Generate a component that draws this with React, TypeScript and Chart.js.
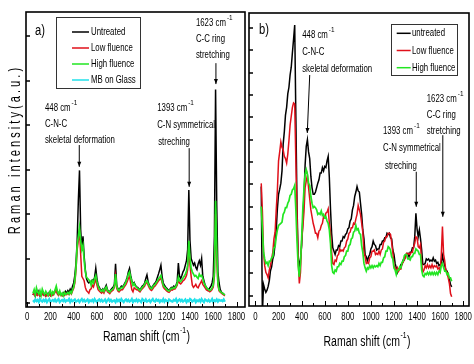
import React, { useEffect, useRef } from "react";
import { Chart, registerables } from "chart.js";
Chart.register(...registerables);

// ---------- data ----------
const SHIFT = [
  50, 60, 70, 80, 90, 100, 110, 120, 130, 140,
  150, 160, 170, 180, 190, 200, 210, 220, 230, 240,
  250, 260, 270, 280, 290, 300, 310, 320, 330, 340,
  350, 360, 370, 380, 390, 400, 410, 420, 430, 440,
  450, 460, 470, 480, 490, 500, 510, 520, 530, 540,
  550, 560, 570, 580, 590, 600, 610, 620, 630, 640,
  650, 660, 670, 680, 690, 700, 710, 720, 730, 740,
  750, 760, 770, 780, 790, 800, 810, 820, 830, 840,
  850, 860, 870, 880, 890, 900, 910, 920, 930, 940,
  950, 960, 970, 980, 990, 1000, 1010, 1020, 1030, 1040,
  1050, 1060, 1070, 1080, 1090, 1100, 1110, 1120, 1130, 1140,
  1150, 1160, 1170, 1180, 1190, 1200, 1210, 1220, 1230, 1240,
  1250, 1260, 1270, 1280, 1290, 1300, 1310, 1320, 1330, 1340,
  1350, 1360, 1370, 1380, 1390, 1400, 1410, 1420, 1430, 1440,
  1450, 1460, 1470, 1480, 1490, 1500, 1510, 1520, 1530, 1540,
  1550, 1560, 1570, 1580, 1590, 1600, 1610, 1620, 1630, 1640,
  1650, 1660, 1670, 1680, 1690, 1700,
];

// Panel a)
const A_UNTREATED = [
  18, 24, 15, 22, 19, 26, 17, 21, 25, 18,
  20, 16, 22, 18, 24, 17, 21, 19, 23, 27,
  33, 22, 18, 24, 20, 17, 23, 19, 26, 22,
  28, 24, 31, 26, 38, 45, 62, 90, 140, 230,
  298, 165, 120, 150, 105, 75, 55, 48, 45, 48,
  45, 52, 50, 58, 78, 55, 40, 35, 30, 28,
  32, 28, 34, 40, 30, 27, 25, 30, 33, 36,
  42, 88, 40, 32, 30, 34, 38, 36, 40, 45,
  50, 58, 70, 78, 62, 50, 42, 46, 40, 36,
  35, 32, 30, 34, 38, 40, 45, 55, 63, 48,
  40, 36, 34, 38, 42, 45, 50, 58, 66, 75,
  85, 60, 45, 40, 36, 33, 30, 28, 32, 35,
  34, 38, 36, 40, 48, 90, 60, 55, 62, 70,
  75, 85, 95, 120, 254, 140, 100, 92, 85, 90,
  80, 75, 88, 95, 85, 100, 60, 50, 40, 35,
  32, 30, 34, 38, 45, 60, 150, 480, 220, 70,
  45, 30, 25, 22, 20, 18,
];
const A_LOW = [
  18, 22, 16, 20, 17, 23, 15, 19, 22, 17,
  18, 15, 20, 16, 21, 16, 19, 17, 20, 24,
  30, 20, 17, 22, 18, 16, 20, 17, 22, 19,
  22, 19, 24, 20, 27, 33, 45, 75, 120, 140,
  165, 110, 60, 55, 50, 35, 28, 25, 22, 30,
  32, 40, 36, 45, 55, 40, 30, 27, 24, 22,
  26, 22, 28, 33, 25, 23, 21, 25, 27, 29,
  35, 60, 33, 27, 25, 28, 30, 30, 34, 38,
  42, 48, 55, 60, 45, 30, 25, 34, 32, 30,
  30, 27, 25, 29, 32, 35, 38, 44, 46, 40,
  34, 30, 28, 32, 36, 38, 42, 46, 50, 53,
  56, 46, 36, 32, 30, 27, 25, 24, 27, 30,
  29, 32, 31, 35, 40, 52, 45, 43, 46, 50,
  52, 56, 62, 75, 130, 85, 60, 40, 35, 38,
  42, 36, 34, 40, 45, 50, 42, 38, 34, 30,
  28, 27, 25, 27, 30, 36, 60, 200, 100, 40,
  27, 24, 22, 20, 18, 16,
];
const A_HIGH = [
  22, 30, 18, 34, 25, 20, 28, 17, 31, 24,
  19, 26, 21, 17, 23, 28, 18, 25, 21, 30,
  38, 26, 20, 27, 18, 22, 16, 24, 19, 21,
  24, 20, 26, 22, 30, 36, 50, 80, 130, 150,
  170, 140, 120, 130, 95, 70, 58, 55, 52, 50,
  40, 50, 45, 55, 62, 48, 38, 32, 28, 26,
  30, 26, 32, 36, 28, 26, 24, 28, 30, 32,
  38, 65, 38, 30, 28, 32, 35, 34, 38, 42,
  48, 55, 65, 70, 58, 48, 40, 44, 38, 35,
  33, 30, 28, 32, 35, 38, 42, 48, 50, 44,
  38, 34, 32, 36, 40, 42, 46, 50, 55, 58,
  62, 50, 40, 36, 34, 30, 28, 27, 30, 33,
  32, 35, 34, 38, 44, 58, 50, 48, 52, 56,
  60, 65, 72, 85, 140, 100, 78, 70, 65, 60,
  62, 58, 55, 65, 60, 62, 55, 45, 40, 35,
  32, 30, 28, 30, 34, 40, 70, 230, 120, 45,
  30, 26, 24, 22, 20, 18,
];
const A_GLASS = [
  6, 3, 8, 4, 7, 2, 9, 5, 3, 7,
  4, 8, 2, 6, 9, 3, 5, 7, 4, 8,
  3, 6, 9, 2, 5, 7, 4, 8, 3, 6,
  5, 9, 2, 7, 4, 6, 8, 3, 5, 7,
  2, 6, 9, 4, 7, 3, 5, 8, 2, 6,
  4, 7, 3, 9, 5, 2, 6, 8, 4, 7,
  3, 5, 8, 2, 6, 9, 4, 7, 3, 5,
  6, 2, 8, 4, 7, 3, 9, 5, 2, 6,
  8, 4, 7, 3, 5, 9, 2, 6, 4, 8,
  3, 7, 5, 2, 9, 6, 4, 8, 3, 5,
  7, 2, 6, 9, 4, 3, 8, 5, 7, 2,
  6, 4, 9, 3, 7, 5, 2, 8, 6, 4,
  3, 7, 5, 9, 2, 6, 8, 4, 7, 3,
  5, 8, 2, 6, 4, 9, 7, 3, 5, 8,
  2, 6, 4, 7, 3, 9, 5, 2, 8, 6,
  4, 7, 3, 5, 9, 2, 6, 4, 8, 3,
  7, 5, 6, 4, 8, 3,
];

// Panel b)
const B_UNTREATED = [
  490, -80, 50, 30, 15, 25, 42, 68, 112, 130,
  165, 182, 235, 295, 390, 455, 478, 505, 560, 680,
  735, 810, 845, 905, 935, 990, 1025, 1090, 1150, 1214,
  800, 400, 170, 130, 165, 225, 335, 445, 585, 670,
  700, 645, 615, 535, 485, 455, 455, 465, 485, 505,
  520, 550, 550, 575, 560, 580, 575, 605, 625, 530,
  390, 280, 215, 200, 185, 205, 205, 225, 220, 245,
  245, 265, 260, 275, 280, 300, 305, 335, 345, 385,
  405, 445, 465, 490, 470, 465, 415, 365, 295, 255,
  185, 175, 155, 175, 185, 210, 220, 245, 230, 225,
  205, 210, 210, 230, 230, 245, 245, 260, 260, 280,
  275, 280, 260, 255, 205, 185, 145, 125, 105, 120,
  120, 140, 140, 160, 160, 185, 185, 190, 175, 195,
  195, 215, 215, 265, 370, 300, 265, 295, 255, 205,
  140, 140, 145, 165, 160, 165, 155, 160, 155, 170,
  155, 160, 145, 150, 135, 140, 145, 180, 155, 135,
  115, 110, 90, 75, 50, 40,
];
const B_LOW = [
  504, 380, 195, 135, 105, 95, 80, 115, 135, 165,
  195, 255, 285, 385, 475, 605, 645, 690, 665, 655,
  625, 615, 595, 635, 695, 765, 805, 845, 865, 860,
  600, 350, 160, 55, 105, 245, 305, 375, 485, 515,
  540, 485, 435, 385, 355, 325, 305, 280, 280, 260,
  290, 295, 315, 325, 355, 350, 370, 375, 390, 325,
  285, 195, 145, 140, 160, 155, 180, 185, 210, 200,
  205, 200, 215, 220, 245, 255, 280, 285, 305, 305,
  325, 320, 345, 365, 405, 385, 365, 325, 285, 195,
  175, 145, 150, 145, 170, 175, 200, 200, 205, 185,
  190, 185, 200, 185, 205, 210, 240, 245, 265, 265,
  280, 280, 275, 240, 195, 135, 125, 110, 125, 110,
  120, 120, 145, 150, 165, 170, 190, 185, 190, 185,
  195, 195, 220, 235, 265, 260, 220, 215, 230, 145,
  105, 115, 135, 125, 140, 125, 135, 125, 140, 125,
  135, 130, 135, 120, 125, 110, 185, 310, 185, 155,
  110, 105, 80, 55, 10, -5,
];
const B_HIGH = [
  400, 300, 195, 165, 145, 150, 135, 155, 155, 170,
  175, 215, 220, 265, 295, 315, 320, 325, 330, 365,
  375, 395, 395, 415, 425, 450, 455, 475, 480, 495,
  385, 245, 135, 85, 145, 255, 385, 475, 545, 565,
  545, 505, 495, 445, 415, 395, 400, 395, 385, 365,
  370, 365, 380, 360, 365, 350, 355, 335, 325, 295,
  235, 135, 105, 100, 115, 110, 130, 130, 145, 140,
  155, 155, 175, 180, 200, 200, 225, 230, 255, 260,
  285, 290, 315, 295, 300, 280, 275, 225, 195, 145,
  125, 110, 125, 120, 135, 125, 135, 125, 135, 130,
  135, 130, 145, 135, 150, 150, 170, 175, 200, 200,
  220, 215, 205, 175, 165, 125, 115, 95, 115, 115,
  130, 125, 150, 155, 180, 185, 185, 165, 165, 160,
  175, 175, 190, 190, 210, 205, 200, 185, 185, 115,
  90, 85, 100, 95, 105, 95, 105, 95, 105, 95,
  105, 95, 105, 95, 110, 105, 135, 145, 125, 110,
  110, 95, 100, 80, 80, 65,
];

const X_TICKS = [0, 200, 400, 600, 800, 1000, 1200, 1400, 1600, 1800];
const X_MINOR = [100, 300, 500, 700, 900, 1100, 1300, 1500, 1700];
const A_Y_TICKS = [0, 100, 200, 300, 400, 500, 600];
const B_Y_TICKS = [0, 100, 200, 300, 400, 500, 600, 700, 800, 900, 1000, 1100, 1200];

const A_LABELS = ["Untreated", "Low fluence", "High fluence", "MB on Glass"];
const B_LABELS = ["untreated", "Low fluence", "High fluence"];
const X_TITLE = "Raman shift (cm";
const Y_TITLE = "R a m a n   i n t e n s i t y ( a . u . )";

const COLORS = { black: "#000000", red: "#e0101a", green: "#22e622", cyan: "#20e0ea" };

// ---------- styling ----------
const SANS = '"Liberation Sans", Arial, sans-serif';
const SX = 0.68;
const TXT = 11.5;

type Ann = {
  lines: string[];
  tx: number; ty: number; gap: number; indent?: number[];
  ax1: number; ay1: number; ax2: number; ay2: number;
};

type Spec = {
  left: number; width: number;
  pad: { top: number; right: number; left: number; bottom: number };
  xMin: number; xMax: number; yMin: number; yMax: number;
  yTicks: number[];
  xAxisH: number; yAxisW: number;
  tickY: number;
  xTitle: { dx: number; dy: number };
  yTitle?: { x: number; y: number };
  series: { label: string; data: number[]; color: string; order: number; width: number }[];
  legend: { x: number; y: number; w: number; h: number; row0: number; gap: number; l0: number; l1: number; tx: number };
  panel: { text: string; x: number; y: number };
  anns: Ann[];
};

const SPEC_A: Spec = {
  left: 0, width: 247,
  pad: { top: 12, right: 2, left: 0, bottom: 0 },
  xMin: -10, xMax: 1873, yMin: -9, yMax: 654,
  yTicks: A_Y_TICKS,
  xAxisH: 57, yAxisW: 26,
  tickY: 10,
  xTitle: { dx: 120.5, dy: 29.7 },
  yTitle: { x: 16, y: 151 },
  series: [
    { label: A_LABELS[0], data: A_UNTREATED, color: COLORS.black, order: 4, width: 1.5 },
    { label: A_LABELS[1], data: A_LOW, color: COLORS.red, order: 3, width: 1.5 },
    { label: A_LABELS[2], data: A_HIGH, color: COLORS.green, order: 2, width: 1.7 },
    { label: A_LABELS[3], data: A_GLASS, color: COLORS.cyan, order: 1, width: 2.2 },
  ],
  legend: { x: 30, y: 5, w: 84, h: 71, row0: 15, gap: 16, l0: 16, l1: 33, tx: 35 },
  panel: { text: "a)", x: 9, y: 19 },
  anns: [
    { lines: ["448 cm", "C-N-C", "skeletal deformation"], tx: 153, ty: 438, gap: 16, ax1: 448, ay1: 355, ax2: 448, ay2: 306 },
    { lines: ["1393 cm", "C-N symmetrical", "streching"], tx: 1118, ty: 438, gap: 17, indent: [0, 0, 1], ax1: 1393, ay1: 348, ax2: 1393, ay2: 261 },
    { lines: ["1623 cm", "C-C ring", "stretching"], tx: 1451, ty: 629, gap: 16, ax1: 1623, ay1: 539, ax2: 1623, ay2: 492 },
  ],
};

const SPEC_B: Spec = {
  left: 247, width: 227,
  pad: { top: 13, right: 5, left: 2, bottom: 0 },
  xMin: -56, xMax: 1850, yMin: -46, yMax: 1268,
  yTicks: B_Y_TICKS,
  xAxisH: 58, yAxisW: 0,
  tickY: 11.3,
  xTitle: { dx: 118, dy: 35.7 },
  series: [
    { label: B_LABELS[0], data: B_UNTREATED, color: COLORS.black, order: 3, width: 1.5 },
    { label: B_LABELS[1], data: B_LOW, color: COLORS.red, order: 2, width: 1.5 },
    { label: B_LABELS[2], data: B_HIGH, color: COLORS.green, order: 1, width: 1.7 },
  ],
  legend: { x: 142, y: 11, w: 66, h: 51, row0: 9.3, gap: 17.2, l0: 5.7, l1: 19.7, tx: 21 },
  panel: { text: "b)", x: 10, y: 17 },
  anns: [
    { lines: ["448 cm", "C-N-C", "skeletal deformation"], tx: 405, ty: 1169, gap: 16.7, ax1: 470, ay1: 990, ax2: 449, ay2: 730 },
    { lines: ["1393 cm", "C-N symmetrical", "streching"], tx: 1105, ty: 739, gap: 17.3, indent: [0, 0, 2], ax1: 1393, ay1: 556, ax2: 1393, ay2: 399 },
    { lines: ["1623 cm", "C-C ring", "stretching"], tx: 1484, ty: 885, gap: 16.2, ax1: 1623, ay1: 720, ax2: 1623, ay2: 354 },
  ],
};

function condensed(
  ctx: CanvasRenderingContext2D, text: string, x: number, y: number,
  size: number, sx: number, align: CanvasTextAlign = "left", rot = 0,
) {
  ctx.save();
  ctx.translate(x, y);
  if (rot) ctx.rotate(rot);
  ctx.scale(sx, 1);
  ctx.font = `${size}px ${SANS}`;
  ctx.textBaseline = "middle";
  ctx.textAlign = align;
  ctx.fillText(text, 0, 0);
  const w = ctx.measureText(text).width * sx;
  ctx.restore();
  return w;
}

function decorPlugin(spec: Spec) {
  return {
    id: "decor",
    afterDraw(chart: any) {
      const { ctx, chartArea: a, scales } = chart;
      const xs = scales.x;
      const ys = scales.y;
      ctx.save();
      ctx.fillStyle = "#000";
      ctx.strokeStyle = "#000";

      // inward ticks
      ctx.lineWidth = 1;
      ctx.beginPath();
      for (const t of xs.ticks) {
        const px = Math.round(xs.getPixelForValue(t.value)) + 0.5;
        ctx.moveTo(px, a.bottom);
        ctx.lineTo(px, a.bottom - 5);
      }
      for (const v of X_MINOR) {
        const px = Math.round(xs.getPixelForValue(v)) + 0.5;
        ctx.moveTo(px, a.bottom);
        ctx.lineTo(px, a.bottom - 3);
      }
      ctx.stroke();
      ctx.lineWidth = 1.5;
      ctx.beginPath();
      for (const t of ys.ticks) {
        const py = Math.round(ys.getPixelForValue(t.value));
        ctx.moveTo(a.left, py);
        ctx.lineTo(a.left + 4, py);
      }
      ctx.stroke();

      // frame
      ctx.lineWidth = 1.6;
      ctx.strokeRect(a.left, a.top, a.right - a.left, a.bottom - a.top);

      // x tick labels (from the scale's own ticks)
      for (const t of xs.ticks) {
        condensed(ctx, String(t.value), xs.getPixelForValue(t.value), a.bottom + spec.tickY, TXT, SX, "center");
      }

      // x axis title
      {
        const size = 14, sx = 0.75;
        ctx.font = `${size}px ${SANS}`;
        const w1 = ctx.measureText(X_TITLE).width * sx;
        ctx.font = `9px ${SANS}`;
        const w2 = ctx.measureText("-1").width * sx;
        ctx.font = `${size}px ${SANS}`;
        const w3 = ctx.measureText(")").width * sx;
        const total = w1 + w2 + w3 + 1;
        const cx = a.left + spec.xTitle.dx;
        const cy = a.bottom + spec.xTitle.dy;
        const x0 = cx - total / 2;
        condensed(ctx, X_TITLE, x0, cy, size, sx);
        condensed(ctx, "-1", x0 + w1 + 0.5, cy - 6, 9, sx);
        condensed(ctx, ")", x0 + w1 + w2 + 1, cy, size, sx);
      }

      // y axis title
      if (spec.yTitle) {
        condensed(ctx, Y_TITLE, spec.yTitle.x, spec.yTitle.y, 16, 0.69, "center", -Math.PI / 2);
      }

      // panel label
      condensed(ctx, spec.panel.text, a.left + spec.panel.x, a.top + spec.panel.y, 14, 0.8);

      // legend
      const L = spec.legend;
      const bx = a.left + L.x;
      const by = a.top + L.y;
      ctx.fillStyle = "#fff";
      ctx.fillRect(bx, by, L.w, L.h);
      ctx.strokeStyle = "#333";
      ctx.lineWidth = 1;
      ctx.strokeRect(Math.round(bx) + 0.5, Math.round(by) + 0.5, L.w, L.h);
      chart.data.datasets.forEach((ds: any, i: number) => {
        const ry = by + L.row0 + i * L.gap;
        ctx.strokeStyle = ds.borderColor;
        ctx.lineWidth = 1.5;
        ctx.beginPath();
        ctx.moveTo(bx + L.l0, ry);
        ctx.lineTo(bx + L.l1, ry);
        ctx.stroke();
        ctx.fillStyle = "#000";
        condensed(ctx, ds.label, bx + L.tx, ry, TXT, SX);
      });

      // annotations
      ctx.fillStyle = "#000";
      ctx.strokeStyle = "#000";
      for (const an of spec.anns) {
        const tx = xs.getPixelForValue(an.tx);
        const ty = ys.getPixelForValue(an.ty);
        an.lines.forEach((line, i) => {
          const ind = an.indent ? an.indent[i] : 0;
          const w = condensed(ctx, line, tx + ind, ty + i * an.gap, TXT, SX);
          if (i === 0) condensed(ctx, "-1", tx + w + 1, ty - 5, 8, 0.8);
        });
        const x1 = xs.getPixelForValue(an.ax1);
        const y1 = ys.getPixelForValue(an.ay1);
        const x2 = xs.getPixelForValue(an.ax2);
        const y2 = ys.getPixelForValue(an.ay2);
        ctx.lineWidth = 1;
        ctx.beginPath();
        ctx.moveTo(x1, y1);
        ctx.lineTo(x2, y2);
        ctx.stroke();
        const ang = Math.atan2(y2 - y1, x2 - x1);
        const hl = 5, hw = 2;
        ctx.beginPath();
        ctx.moveTo(x2, y2);
        ctx.lineTo(x2 - hl * Math.cos(ang) + hw * Math.sin(ang), y2 - hl * Math.sin(ang) - hw * Math.cos(ang));
        ctx.lineTo(x2 - hl * Math.cos(ang) - hw * Math.sin(ang), y2 - hl * Math.sin(ang) + hw * Math.cos(ang));
        ctx.closePath();
        ctx.fill();
      }
      ctx.restore();
    },
  };
}

function buildConfig(spec: Spec): any {
  return {
    type: "line",
    data: {
      datasets: spec.series.map((s) => ({
        label: s.label,
        data: SHIFT.map((x, i) => ({ x, y: s.data[i] })),
        borderColor: s.color,
        backgroundColor: s.color,
        borderWidth: s.width,
        pointRadius: 0,
        tension: 0,
        fill: false,
        order: s.order,
      })),
    },
    options: {
      animation: false,
      responsive: true,
      maintainAspectRatio: false,
      events: [],
      layout: { padding: spec.pad },
      plugins: { legend: { display: false }, tooltip: { enabled: false } },
      scales: {
        x: {
          type: "linear",
          min: spec.xMin,
          max: spec.xMax,
          grid: { display: false, drawTicks: false },
          border: { display: false },
          afterBuildTicks: (s: any) => {
            s.ticks = X_TICKS.map((v) => ({ value: v }));
          },
          afterFit: (s: any) => {
            s.height = spec.xAxisH;
            s.paddingLeft = 0;
            s.paddingRight = 0;
          },
          ticks: { display: false },
          title: { display: false },
        },
        y: {
          type: "linear",
          display: spec.yAxisW > 0,
          min: spec.yMin,
          max: spec.yMax,
          grid: { display: false, drawTicks: false },
          border: { display: false },
          afterBuildTicks: (s: any) => {
            s.ticks = spec.yTicks.map((v) => ({ value: v }));
          },
          ticks: { display: false },
          afterFit: (s: any) => {
            s.width = spec.yAxisW;
            s.paddingTop = 0;
            s.paddingBottom = 0;
          },
          title: { display: false },
        },
      },
    },
    plugins: [decorPlugin(spec)],
  };
}

function Panel({ spec }: { spec: Spec }) {
  const ref = useRef<HTMLCanvasElement>(null);
  useEffect(() => {
    const chart = new Chart(ref.current as HTMLCanvasElement, buildConfig(spec));
    return () => chart.destroy();
  }, [spec]);
  return (
    <div style={{ position: "absolute", left: spec.left, top: 0, width: spec.width, height: 364 }}>
      <canvas ref={ref} style={{ display: "block" }} />
    </div>
  );
}

export default function App() {
  return (
    <div style={{ position: "absolute", left: 0, top: 0, width: 474, height: 364, background: "#fff", overflow: "hidden" }}>
      <Panel spec={SPEC_A} />
      <Panel spec={SPEC_B} />
    </div>
  );
}
